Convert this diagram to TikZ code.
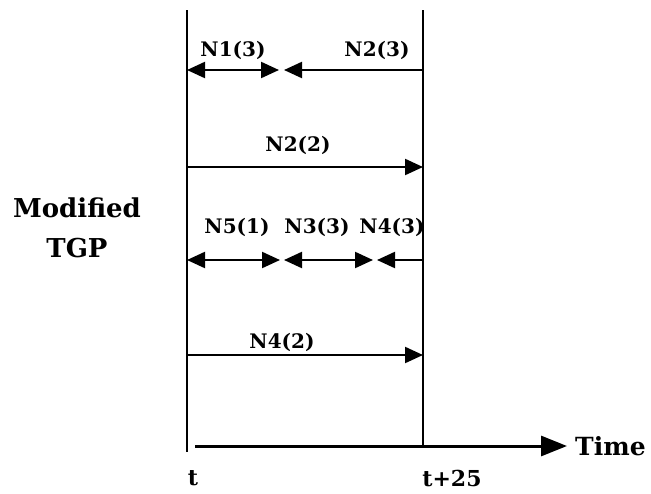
\documentclass[tikz,border=0pt]{standalone}
\usepackage{fontspec}
\setmainfont{DejaVu Serif}
\usetikzlibrary{arrows.meta,positioning}
\tikzset{
  bound/.style={line width=2pt, black},
  span/.style={line width=2.2pt, black, arrows={-Triangle[length=18pt,width=16pt]}},
  twospan/.style={line width=2.2pt, black, arrows={Triangle[length=18pt,width=16pt]-Triangle[length=18pt,width=16pt]}},
  timeax/.style={line width=3pt, black, -{Triangle[length=26pt,width=20pt]}},
  lbl/.style={font=\fontsize{20}{22}\selectfont\bfseries, inner sep=0pt},
  axlbl/.style={font=\fontsize{22}{24}\selectfont\bfseries, inner sep=0pt},
  side/.style={font=\fontsize{26}{40}\selectfont\bfseries, align=center, inner sep=0pt}
}
\begin{document}
\begin{tikzpicture}[x=1pt,y=-1pt]
  \useasboundingbox (0,0) rectangle (651,493);
  % window borders t and t+25
  \coordinate (tTop) at (187,10);
  \coordinate (tBot) at (187,452);
  \coordinate (eTop) at (423,10);
  \coordinate (eBot) at (423,446);
  \draw[bound] (tTop) -- (tBot);
  \draw[bound] (eTop) -- (eBot);
  % time axis
  \coordinate (axStart) at (195,446);
  \coordinate (axEnd) at (567,446);
  \draw[timeax] (axStart) -- (axEnd);
  \node[axlbl, anchor=west, font=\fontsize{25}{27}\selectfont\bfseries] (time) at (575,446) {Time};
  \node[axlbl] (tlab) at (193,478) {t};
  \node[axlbl] (elab) at (452,478) {t+25};
  \node[side] (tgp) at (77,228) {Modified\\TGP};
  % row 1
  \coordinate (a1) at (187,70);
  \coordinate (a2) at (279,70);
  \coordinate (a3) at (284,70);
  \coordinate (a4) at (423,70);
  \draw[twospan] (a1) -- (a2);
  \draw[span] (a4) -- (a3);
  \node[lbl] (n13) at (233,50) {N1(3)};
  \node[lbl] (n23) at (377,50) {N2(3)};
  % row 2
  \coordinate (b1) at (187,167);
  \coordinate (b2) at (423,167);
  \draw[span] (b1) -- (b2);
  \node[lbl] (n22) at (298,145) {N2(2)};
  % row 3
  \coordinate (c1) at (187,260);
  \coordinate (c2) at (280,260);
  \coordinate (c3) at (284,260);
  \coordinate (c4) at (373,260);
  \coordinate (c5) at (377,260);
  \coordinate (c6) at (423,260);
  \draw[twospan] (c1) -- (c2);
  \draw[twospan] (c3) -- (c4);
  \draw[span] (c6) -- (c5);
  \node[lbl] (n51) at (237,227) {N5(1)};
  \node[lbl] (n33) at (317,227) {N3(3)};
  \node[lbl] (n43) at (392,227) {N4(3)};
  % row 4
  \coordinate (d1) at (187,355);
  \coordinate (d2) at (423,355);
  \draw[span] (d1) -- (d2);
  \node[lbl] (n42) at (282,342) {N4(2)};
\end{tikzpicture}
\end{document}
